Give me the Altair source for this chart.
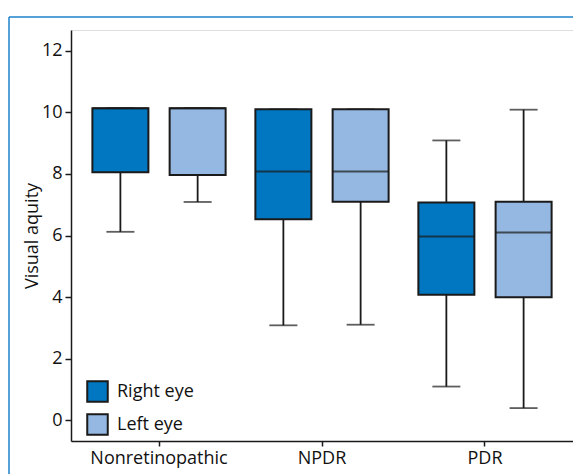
import altair as alt
import pandas as pd

groups = ["Nonretinopathic", "Nonretinopathic", "NPDR", "NPDR", "PDR", "PDR"]
eyes = ["Right eye", "Left eye", "Right eye", "Left eye", "Right eye", "Left eye"]
lower = [6.12, 7.09, 3.08, 3.10, 1.09, 0.39]
q1 = [8.06, 7.97, 6.53, 7.10, 4.07, 3.99]
median = [10.14, 10.14, 8.08, 8.08, 5.97, 6.10]
q3 = [10.14, 10.14, 10.10, 10.10, 7.07, 7.10]
upper = [10.14, 10.14, 10.10, 10.10, 9.09, 10.09]

group_order = ["Nonretinopathic", "NPDR", "PDR"]
eye_order = ["Right eye", "Left eye"]
eye_colors = ["#0077C0", "#95B8E2"]

df = pd.DataFrame({"group": groups, "eye": eyes, "lower": lower, "q1": q1,
                   "median": median, "q3": q3, "upper": upper})

FONT = "Open Sans"
STROKE = "#1a1a1a"
TXT = "#111111"

x = alt.X("group:N", sort=group_order, title=None,
          scale=alt.Scale(paddingInner=0, paddingOuter=0.04),
          axis=alt.Axis(labelFontSize=18, labelColor=TXT, labelPadding=3,
                        tickSize=5, tickColor=STROKE, domainColor=STROKE,
                        labelAngle=0, labelFont=FONT, domainWidth=1.5, tickWidth=1.5))
xo = alt.XOffset("eye:N", sort=eye_order,
                 scale=alt.Scale(paddingInner=0.286, paddingOuter=0.198))
yscale = alt.Scale(domain=[-0.68, 12.68], nice=False, zero=False)

base = alt.Chart(df)

whisk_low = base.mark_rule(color=STROKE, strokeWidth=1.8).encode(
    x=x, xOffset=xo,
    y=alt.Y("lower:Q", scale=yscale, title="Visual aquity",
            axis=alt.Axis(values=[0, 2, 4, 6, 8, 10, 12], grid=False,
                          labelFontSize=18, labelColor=TXT, labelFont=FONT,
                          tickSize=6, tickColor=STROKE, domainColor=STROKE,
                          domainWidth=1.5, tickWidth=1.5, labelPadding=3,
                          titleFontSize=18, titleFont=FONT, titleFontWeight="normal",
                          titleColor=TXT, titlePadding=0)),
    y2="q1:Q")
whisk_up = base.mark_rule(color=STROKE, strokeWidth=1.8).encode(
    x=x, xOffset=xo, y=alt.Y("q3:Q", scale=yscale), y2="upper:Q")
cap_low = base.mark_tick(color=STROKE, size=28, thickness=1.8, orient="horizontal").encode(
    x=x, xOffset=xo, y=alt.Y("lower:Q", scale=yscale))
cap_up = base.mark_tick(color=STROKE, size=28, thickness=1.8, orient="horizontal").encode(
    x=x, xOffset=xo, y=alt.Y("upper:Q", scale=yscale))
boxes = base.mark_bar(size=56, stroke=STROKE, strokeWidth=2).encode(
    x=x, xOffset=xo,
    y=alt.Y("q1:Q", scale=yscale), y2="q3:Q",
    color=alt.Color("eye:N", sort=eye_order,
                    scale=alt.Scale(domain=eye_order, range=eye_colors),
                    legend=alt.Legend(title=None, orient="none", legendX=15, legendY=350,
                                      symbolType="square", symbolSize=420,
                                      symbolStrokeColor=STROKE, symbolStrokeWidth=2,
                                      symbolOpacity=1, labelFontSize=18, labelFont=FONT,
                                      labelColor=TXT, labelOffset=8, rowPadding=4,
                                      padding=0)))
med = base.mark_tick(color=STROKE, size=56, thickness=2, orient="horizontal").encode(
    x=x, xOffset=xo, y=alt.Y("median:Q", scale=yscale))

frame_top = alt.Chart(pd.DataFrame({"a": [0]})).mark_rule(color="#1f82cc", strokeWidth=1.5).encode(
    x=alt.value(-62), x2=alt.value(520), y=alt.value(-13))
frame_left = alt.Chart(pd.DataFrame({"a": [0]})).mark_rule(color="#1f82cc", strokeWidth=1.5).encode(
    x=alt.value(-62), y=alt.value(-13), y2=alt.value(460))

chart = alt.layer(whisk_low, whisk_up, cap_low, cap_up, boxes, med, frame_top, frame_left).properties(
    width=502, height=411,
    padding={"left": 63, "top": 22, "right": 0, "bottom": 33},
    autosize=alt.AutoSizeParams(type="none"),
).configure_view(stroke=None).configure(background="white")

chart.save("out.html", embed_options={"renderer": "svg", "actions": False})
